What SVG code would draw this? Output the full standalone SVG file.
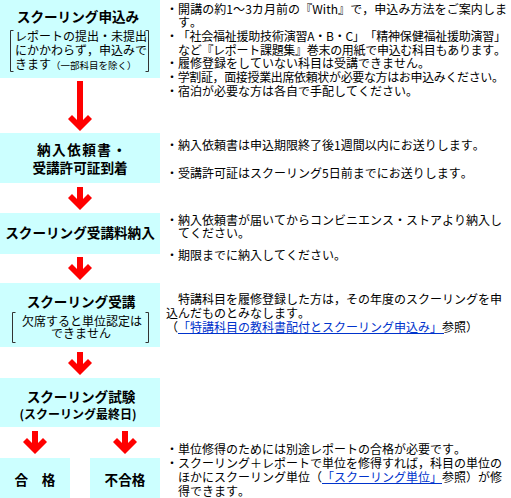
<svg xmlns="http://www.w3.org/2000/svg" width="511" height="498" viewBox="0 0 511 498">
<style>
.box{fill:#ccffff}
.t{font-family:"Noto Sans CJK JP","Noto Sans",sans-serif;fill:#000;text-spacing-trim:space-all;font-kerning:none}
.h{font-size:13.6px;font-weight:bold}
.s{font-size:12px}
.n{font-size:12px}
.sm{font-size:9.5px}
.br{fill:none;stroke:#333;stroke-width:1}
.ar{fill:#ff0000}
.lk{fill:#0033cc}
.ul{stroke:#0033cc;stroke-width:1}
</style>
<rect width="511" height="498" fill="#ffffff"/>
<defs>
<path id="arrowhead" d="M0,0 L-12,-12 L-8,-16 L0,-8 L8,-16 L12,-12 Z"/>
</defs>
<g id="node1">
<rect class="box" x="0" y="0" width="160" height="78"/>
<text class="t h" x="78" y="22" text-anchor="middle">スクーリング申込み</text>
<path class="br" d="M13.5,30.5 H10.5 V71.5 H13.5 M145.5,30.5 H148.5 V71.5 H145.5"/>
<text class="t s" x="15" y="40.5">レポートの提出・未提出</text>
<text class="t s" x="15" y="54.5">にかかわらず，申込みで</text>
<text class="t s" x="15" y="68.5">きます<tspan class="sm">（一部科目を除く）</tspan></text>
</g>
<g id="node2">
<rect class="box" x="0" y="133" width="160" height="50"/>
<text class="t h" x="37" y="155" letter-spacing="1.5">納入依頼書・</text>
<text class="t h" x="80" y="173" text-anchor="middle">受講許可証到着</text>
</g>
<g id="node3">
<rect class="box" x="0" y="213" width="160" height="41"/>
<text class="t h" x="80" y="238" text-anchor="middle">スクーリング受講料納入</text>
</g>
<g id="node4">
<rect class="box" x="0" y="283" width="160" height="64"/>
<text class="t h" x="81" y="307" text-anchor="middle">スクーリング受講</text>
<path class="br" d="M15.5,312.5 H12.5 V342.5 H15.5 M145.5,312.5 H148.5 V342.5 H145.5"/>
<text class="t s" x="22" y="326">欠席すると単位認定は</text>
<text class="t s" x="81" y="338" text-anchor="middle">できません</text>
</g>
<g id="node5">
<rect class="box" x="0" y="378" width="160" height="49"/>
<text class="t h" x="81" y="402" text-anchor="middle">スクーリング試験</text>
<text class="t" x="78" y="418.5" text-anchor="middle" font-size="12" font-weight="bold">(スクーリング最終日)</text>
</g>
<g id="node6">
<rect class="box" x="0" y="458" width="70" height="40"/>
<text class="t h" x="35" y="485" text-anchor="middle">合　格</text>
</g>
<g id="node7">
<rect class="box" x="90" y="458" width="70" height="40"/>
<text class="t h" x="125" y="485" text-anchor="middle">不合格</text>
</g>
<g id="connectors">
<rect class="ar" x="77" y="81" width="6" height="44"/>
<use href="#arrowhead" class="ar" x="80" y="131"/>
<rect class="ar" x="77" y="187" width="6" height="16"/>
<use href="#arrowhead" class="ar" x="80" y="210"/>
<rect class="ar" x="77" y="257" width="6" height="16"/>
<use href="#arrowhead" class="ar" x="80" y="280"/>
<rect class="ar" x="77" y="352" width="6" height="16"/>
<use href="#arrowhead" class="ar" x="80" y="375"/>
<rect class="ar" x="32" y="431" width="6" height="16"/>
<use href="#arrowhead" class="ar" x="35" y="454"/>
<rect class="ar" x="122" y="431" width="6" height="16"/>
<use href="#arrowhead" class="ar" x="125" y="454"/>
</g>
<g id="notes">
<text class="t n" x="166" y="13.5" textLength="341" lengthAdjust="spacing">・開講の約1～3カ月前の『With』で，申込み方法をご案内しま</text>
<text class="t n" x="178" y="27">す。</text>
<text class="t n" x="166" y="41" textLength="340" lengthAdjust="spacing">・「社会福祉援助技術演習A・B・C」「精神保健福祉援助演習」</text>
<text class="t n" x="178" y="54.5" textLength="328" lengthAdjust="spacing">など『レポート課題集』巻末の用紙で申込む科目もあります。</text>
<text class="t n" x="166" y="68">・履修登録をしていない科目は受講できません。</text>
<text class="t n" x="166" y="82" textLength="338" lengthAdjust="spacing">・学割証，面接授業出席依頼状が必要な方はお申込みください。</text>
<text class="t n" x="166" y="95.5">・宿泊が必要な方は各自で手配してください。</text>

<text class="t n" x="166" y="149.5">・納入依頼書は申込期限終了後1週間以内にお送りします。</text>
<text class="t n" x="166" y="177.5">・受講許可証はスクーリング5日前までにお送りします。</text>

<text class="t n" x="166" y="224.5">・納入依頼書が届いてからコンビニエンス・ストアより納入し</text>
<text class="t n" x="178" y="237.5">てください。</text>
<text class="t n" x="166" y="259.5">・期限までに納入してください。</text>

<text class="t n" x="166" y="303.5">　特講科目を履修登録した方は，その年度のスクーリングを申</text>
<text class="t n" x="166" y="317.5">込んだものとみなします。</text>
<text class="t n" x="166" y="331.5">（<tspan class="lk">「特講科目の教科書配付とスクーリング申込み」</tspan>参照）</text>
<line class="ul" x1="178" y1="333.5" x2="444" y2="333.5"/>

<text class="t n" x="166" y="454">・単位修得のためには別途レポートの合格が必要です。</text>
<text class="t n" x="166" y="468">・スクーリング＋レポートで単位を修得すれば，科目の単位の</text>
<text class="t n" x="178" y="482">ほかにスクーリング単位（<tspan class="lk">「スクーリング単位」</tspan>参照）が修</text>
<line class="ul" x1="322" y1="483.5" x2="442" y2="483.5"/>
<text class="t n" x="178" y="496">得できます。</text>
</g>
</svg>
